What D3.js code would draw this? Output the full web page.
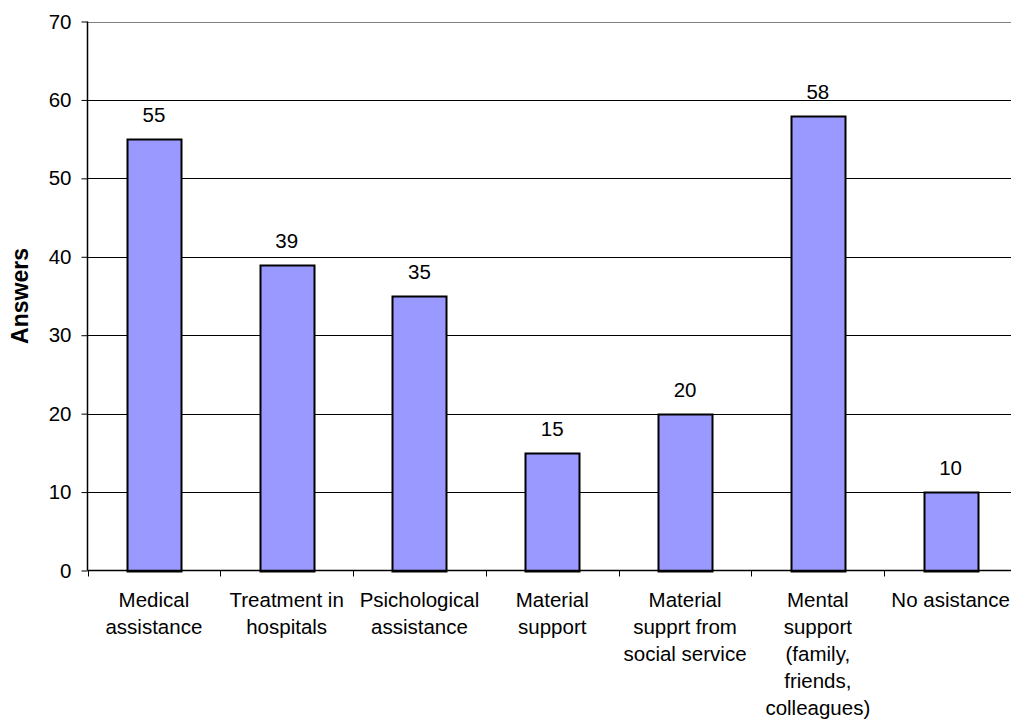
<!DOCTYPE html>
<html>
<head>
<meta charset="utf-8">
<script src="https://cdn.jsdelivr.net/npm/d3@7"></script>
<style>
  html, body { margin: 0; padding: 0; background: #fff; }
  svg { display: block; }
  text { font-family: "Liberation Sans", Arial, sans-serif; fill: #000; }
</style>
</head>
<body>
<svg id="chart" width="1011" height="724"></svg>
<script>
// Answers per type of assistance received
const categories = [
  ["Medical", "assistance"],
  ["Treatment in", "hospitals"],
  ["Psichological", "assistance"],
  ["Material", "support"],
  ["Material", "supprt from", "social service"],
  ["Mental", "support", "(family,", "friends,", "colleagues)"],
  ["No asistance"]
];
const values = [55, 39, 35, 15, 20, 58, 10];
const yTicks = [0, 10, 20, 30, 40, 50, 60, 70];

const svg = d3.select("#chart");
const W = 1011;
const x0 = 87.5, x1 = W + 6;
const yTop = 21.5, yBot = 570.5;
const fontSize = 20.5;

const keys = categories.map((c, i) => i);
const x = d3.scaleBand().domain(keys).range([x0, x1]).paddingInner(0).paddingOuter(0);
const y = d3.scaleLinear().domain([0, 70]).range([yBot, yTop]);

// horizontal gridlines
svg.append("g")
  .selectAll("line")
  .data(yTicks.filter(t => t > 0))
  .join("line")
  .attr("x1", x0).attr("x2", x1)
  .attr("y1", d => Math.round(y(d)) + 0.5).attr("y2", d => Math.round(y(d)) + 0.5)
  .attr("stroke", d => d === 70 ? "#808080" : "#000")
  .attr("stroke-width", 1);

// bars
const bw = 54;
svg.append("g")
  .selectAll("rect")
  .data(values)
  .join("rect")
  .attr("x", (d, i) => Math.round(x(i) + x.bandwidth() / 2 - bw / 2) + 0.5)
  .attr("y", d => Math.round(y(d)) + 0.5)
  .attr("width", bw)
  .attr("height", d => Math.round(y(0)) - Math.round(y(d)))
  .attr("fill", "#9999ff")
  .attr("stroke", "#000")
  .attr("stroke-width", 2);

// value labels
svg.append("g")
  .selectAll("text")
  .data(values)
  .join("text")
  .attr("x", (d, i) => x(i) + x.bandwidth() / 2)
  .attr("y", d => y(d) - 17)
  .attr("text-anchor", "middle")
  .attr("font-size", fontSize)
  .text(d => d);

// y axis
const yAxis = d3.axisLeft(y).tickValues(yTicks).tickSize(6).tickPadding(10);
const gy = svg.append("g").attr("transform", `translate(${x0},0)`).call(yAxis);
gy.select(".domain").attr("stroke", "#000").attr("stroke-width", 1.5)
  .attr("d", `M0,${yTop}V${yBot}`);
gy.selectAll(".tick line").attr("stroke", "#000");
gy.selectAll(".tick text").attr("font-size", fontSize).attr("font-family", "Liberation Sans, Arial, sans-serif").attr("fill", "#000");

// x axis baseline and band boundary ticks
svg.append("line")
  .attr("x1", x0).attr("x2", x1)
  .attr("y1", yBot).attr("y2", yBot)
  .attr("stroke", "#000").attr("stroke-width", 1.5);
svg.append("g")
  .selectAll("line")
  .data(keys.concat([keys.length]))
  .join("line")
  .attr("x1", i => Math.round(i < keys.length ? x(i) : x1) + 0.5)
  .attr("x2", i => Math.round(i < keys.length ? x(i) : x1) + 0.5)
  .attr("y1", yBot).attr("y2", yBot + 6)
  .attr("stroke", "#000");

// category labels
const lab = svg.append("g")
  .selectAll("text")
  .data(categories)
  .join("text")
  .attr("x", (d, i) => x(i) + x.bandwidth() / 2)
  .attr("y", 607)
  .attr("text-anchor", "middle")
  .attr("font-size", fontSize);
lab.selectAll("tspan")
  .data(d => d)
  .join("tspan")
  .attr("x", function () { return d3.select(this.parentNode).attr("x"); })
  .attr("dy", (d, j) => j === 0 ? 0 : 27)
  .text(d => d);

// y axis title
svg.append("text")
  .attr("transform", `translate(28,${(yTop + yBot) / 2}) rotate(-90)`)
  .attr("text-anchor", "middle")
  .attr("font-size", 23)
  .attr("font-weight", "bold")
  .text("Answers");
</script>
</body>
</html>
